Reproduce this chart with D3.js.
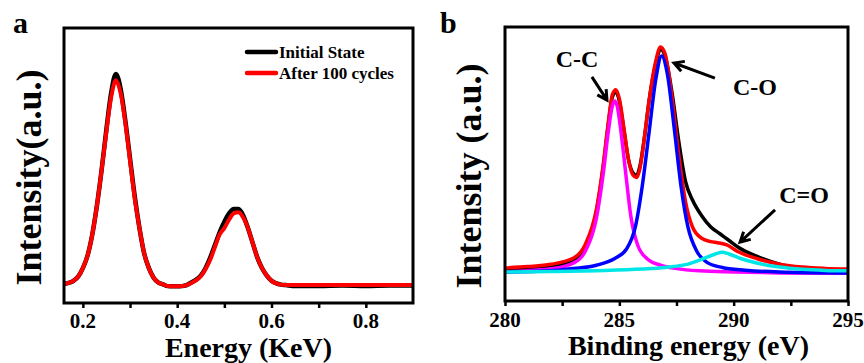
<!DOCTYPE html>
<html><head><meta charset="utf-8">
<script src="https://cdn.jsdelivr.net/npm/d3@7/dist/d3.min.js"></script>
<style>
html,body{margin:0;padding:0;background:#fff;}
svg{display:block;}
text{font-family:"Liberation Serif","Times New Roman",Tinos,"DejaVu Serif",serif;font-weight:700;}
</style></head>
<body>
<svg id="c" width="864" height="363"></svg>
<script>
// ---------- Panel a data (EDS) ----------
const energyA = [0.16,0.17,0.18,0.19,0.20,0.21,0.22,0.23,0.24,0.25,0.26,0.27,0.28,0.29,0.30,0.31,0.32,0.33,0.34,0.35,0.36,0.37,0.38,0.39,0.40,0.41,0.42,0.43,0.44,0.45,0.46,0.47,0.48,0.49,0.50,0.51,0.52,0.53,0.54,0.55,0.56,0.57,0.58,0.59,0.60,0.61,0.62,0.63,0.65,0.70,0.75,0.80,0.85,0.90];
const initialState = [0.005,0.01,0.02,0.04,0.08,0.14,0.24,0.38,0.55,0.74,0.91,1.00,0.93,0.78,0.60,0.42,0.27,0.15,0.08,0.035,0.012,0.003,-0.005,-0.006,-0.006,-0.005,0.0,0.012,0.025,0.045,0.08,0.13,0.19,0.25,0.30,0.34,0.36,0.36,0.33,0.27,0.20,0.13,0.08,0.045,0.02,0.008,0.002,0.0,-0.004,-0.004,-0.002,-0.004,-0.002,-0.002];
const after100 = [0.005,0.01,0.02,0.04,0.08,0.14,0.24,0.38,0.55,0.73,0.89,0.97,0.91,0.77,0.59,0.41,0.27,0.15,0.08,0.035,0.012,0.003,-0.005,-0.006,-0.006,-0.005,0.0,0.01,0.022,0.042,0.075,0.12,0.18,0.24,0.27,0.31,0.34,0.345,0.32,0.27,0.20,0.13,0.08,0.045,0.02,0.008,0.002,0.0,0.0,0.0,0.0,0.0,0.0,0.0];
const ticksA = [0.2,0.4,0.6,0.8];
const minorA = [0.3,0.5,0.7];
const legendA = ["Initial State","After 100 cycles"];

// ---------- Panel b data (XPS C1s) ----------
const beMeasured = [280,281,282,283,283.5,284.0,284.3,284.5,284.7,284.85,285.0,285.2,285.4,285.6,285.75,285.9,286.1,286.3,286.6,286.8,287.0,287.3,287.6,287.9,288.2,288.6,289.0,289.4,289.8,290.2,291,292,293,294,295];
const measured = [0.012,0.015,0.022,0.05,0.11,0.27,0.47,0.64,0.78,0.80,0.76,0.63,0.50,0.44,0.43,0.47,0.60,0.76,0.93,0.99,0.96,0.80,0.58,0.40,0.32,0.25,0.20,0.17,0.14,0.11,0.07,0.035,0.015,0.0,-0.005];
const beFit = [280,281,282,283,283.5,284.0,284.3,284.5,284.7,284.85,285.0,285.2,285.4,285.6,285.75,285.9,286.1,286.3,286.6,286.8,287.0,287.3,287.6,287.9,288.2,288.6,289.0,289.3,289.7,290.2,291,292,293,294,295];
const fitEnvelope = [0.018,0.024,0.034,0.062,0.12,0.28,0.48,0.65,0.79,0.81,0.77,0.64,0.50,0.43,0.42,0.46,0.60,0.76,0.94,1.00,0.97,0.78,0.52,0.31,0.20,0.15,0.135,0.13,0.12,0.09,0.06,0.035,0.022,0.016,0.013];
const beCC = [280,281,282,283,283.5,284.0,284.3,284.5,284.7,284.8,284.9,285.1,285.3,285.5,285.8,286.2,286.8,287.5,288.5,290,292,295];
const peakCC = [0.0,0.006,0.014,0.04,0.09,0.24,0.44,0.61,0.74,0.76,0.74,0.60,0.42,0.25,0.12,0.06,0.03,0.015,0.005,0.0,-0.004,-0.006];
const beCO = [280,282,283,284,284.8,285.3,285.7,286.0,286.3,286.6,286.85,287.1,287.4,287.7,288.0,288.4,288.8,289.5,290.5,292,295];
const peakCO = [0.0,0.005,0.015,0.03,0.06,0.10,0.20,0.38,0.62,0.86,0.96,0.88,0.64,0.38,0.20,0.09,0.045,0.02,0.008,0.0,-0.004];
const beCdO = [280,282,284,286,287,288,288.7,289.2,289.5,289.8,290.3,291,292,293,294,295];
const peakCdO = [0.0,0.002,0.006,0.013,0.02,0.035,0.06,0.08,0.088,0.08,0.06,0.04,0.022,0.012,0.007,0.005];
const ticksB = [280,285,290,295];
const minorB = [282.5,287.5,292.5];
// annotations in data units
const annLabels = ["C-C","C-O","C=O"];
const annLabelX = [283.15,290.93,293.08];
const annLabelY = [0.911,0.787,0.307];
const annFromX = [283.8,289.18,291.81];
const annFromY = [0.867,0.862,0.276];
const annToX = [284.46,287.39,290.28];
const annToY = [0.764,0.929,0.133];

const svg = d3.select("#c");
const FS = {tick:21, title:28, ytitle:36, ann:24, leg:17};

function frame(g, L, R, T, B){
  g.append("rect").attr("x",L).attr("y",T).attr("width",R-L).attr("height",B-T)
   .attr("fill","none").attr("stroke","#000").attr("stroke-width",3);
}
function xAxis(g, x, B, major, minor, fmt, labelY){
  const ax = g.append("g").attr("transform",`translate(0,${B})`)
    .call(d3.axisBottom(x).tickValues(major.concat(minor)).tickSize(5).tickFormat(""));
  ax.select(".domain").remove();
  ax.selectAll("text").remove();
  ax.selectAll("line").attr("stroke","#000").attr("stroke-width",2.5);
  g.selectAll(null).data(major).enter().append("text")
    .attr("x",d=>x(d)).attr("y",labelY).attr("text-anchor","middle")
    .attr("font-size",FS.tick).text(fmt);
}

// ---------- Panel a ----------
{
  const L=64,R=413,T=28,B=303;
  const x = d3.scaleLinear().domain([0.16,0.9]).range([L,R]);
  const y = d3.scaleLinear().domain([-0.085,1.218]).range([B,T]);
  const g = svg.append("g");
  const line = (xs)=>d3.line().x((d,i)=>x(xs[i])).y(d=>y(d)).curve(d3.curveMonotoneX);
  g.append("path").datum(initialState).attr("d",line(energyA)).attr("fill","none")
    .attr("stroke","#000").attr("stroke-width",4.5).attr("stroke-linejoin","round");
  g.append("path").datum(after100).attr("d",line(energyA)).attr("fill","none")
    .attr("stroke","#ff0000").attr("stroke-width",4).attr("stroke-linejoin","round");
  frame(g,L,R,T,B);
  xAxis(g,x,B,ticksA,minorA,d=>d3.format(".1f")(d),328);
  g.append("text").attr("x",(L+R)/2+10).attr("y",357).attr("text-anchor","middle")
    .attr("font-size",FS.title).text("Energy (KeV)");
  g.append("text").attr("transform",`translate(41,${(T+B)/2+12}) rotate(-90)`)
    .attr("text-anchor","middle").attr("font-size",FS.ytitle).text("Intensity(a.u.)");
  g.append("text").attr("x",13).attr("y",33).attr("font-size",30).text("a");
  const cols=["#000","#ff0000"], ly=[52,73];
  legendA.forEach((t,i)=>{
    g.append("line").attr("x1",247).attr("x2",276).attr("y1",ly[i]).attr("y2",ly[i])
      .attr("stroke",cols[i]).attr("stroke-width",4.5).attr("stroke-linecap","round");
    g.append("text").attr("x",279).attr("y",ly[i]+6).attr("font-size",FS.leg).text(t);
  });
}

// ---------- Panel b ----------
{
  const L=505,R=848,T=27,B=301;
  const x = d3.scaleLinear().domain([280,295]).range([L,R]);
  const y = d3.scaleLinear().domain([-0.129,1.089]).range([B,T]);
  const g = svg.append("g");
  const line = (xs)=>d3.line().x((d,i)=>x(xs[i])).y(d=>y(d)).curve(d3.curveMonotoneX);
  const series = [
    [measured,beMeasured,"#000",3.5],
    [fitEnvelope,beFit,"#ff0000",3.5],
    [peakCC,beCC,"#ff00ff",3.5],
    [peakCO,beCO,"#0000ff",3.5],
    [peakCdO,beCdO,"#00e6e6",3.5]
  ];
  series.forEach(([v,xs,c,w])=>{
    g.append("path").datum(v).attr("d",line(xs)).attr("fill","none")
      .attr("stroke",c).attr("stroke-width",w).attr("stroke-linejoin","round");
  });
  frame(g,L,R,T,B);
  xAxis(g,x,B,ticksB,minorB,d=>d,327);
  g.append("text").attr("x",(L+R)/2+12).attr("y",355).attr("text-anchor","middle")
    .attr("font-size",FS.title).text("Binding energy (eV)");
  g.append("text").attr("transform",`translate(481,${(T+B)/2+12}) rotate(-90)`)
    .attr("text-anchor","middle").attr("font-size",FS.ytitle).text("Intensity (a.u.)");
  g.append("text").attr("x",440).attr("y",33).attr("font-size",30).text("b");
  annLabels.forEach((t,i)=>{
    g.append("text").attr("x",x(annLabelX[i])).attr("y",y(annLabelY[i]))
      .attr("text-anchor","middle").attr("font-size",FS.ann).text(t);
    const x1=x(annFromX[i]), y1=y(annFromY[i]), x2=x(annToX[i]), y2=y(annToY[i]);
    const a=Math.atan2(y2-y1,x2-x1), h=11, s=0.5;
    g.append("path")
      .attr("d",`M${x1},${y1}L${x2},${y2}M${x2-h*Math.cos(a-s)},${y2-h*Math.sin(a-s)}L${x2},${y2}L${x2-h*Math.cos(a+s)},${y2-h*Math.sin(a+s)}`)
      .attr("fill","none").attr("stroke","#000").attr("stroke-width",3).attr("stroke-linejoin","miter");
  });
}
</script>
</body></html>
